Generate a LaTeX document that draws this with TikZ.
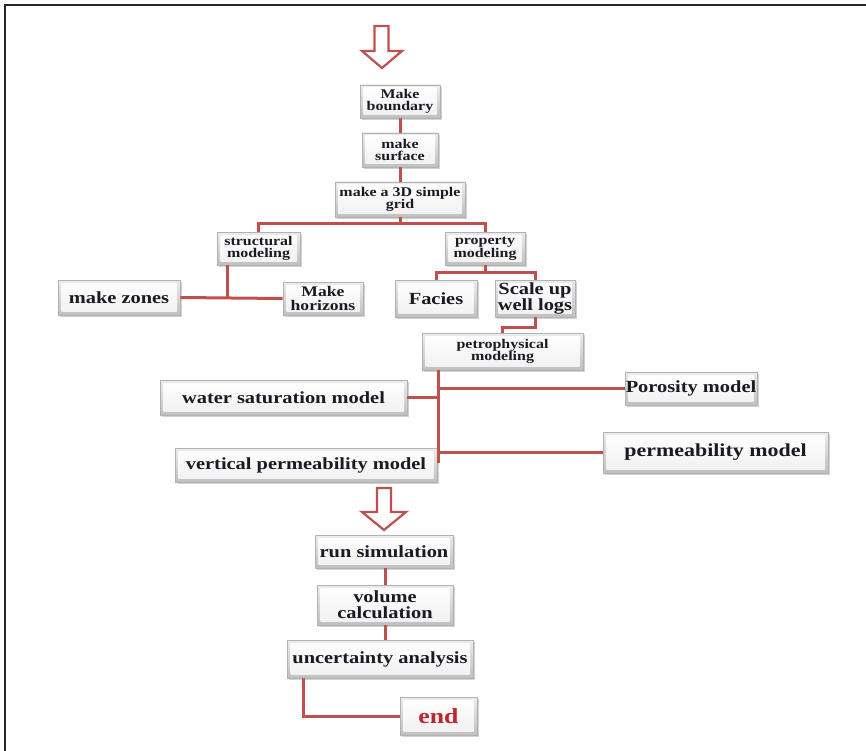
\documentclass[tikz,border=0pt]{standalone}
\usepackage{fontspec}
\setmainfont{Liberation Serif}
\newfontfamily\bxfont[FakeStretch=1.2]{Liberation Serif}
\usetikzlibrary{shadows}
\definecolor{lnred}{HTML}{C0504D}
\definecolor{txtc}{HTML}{1A1A24}
\definecolor{endred}{HTML}{C0262D}
\tikzset{
  bevel/.style={draw=gray!60, line width=0.6pt, top color=gray!15, bottom color=gray!50,
    drop shadow={shadow xshift=2pt, shadow yshift=-2pt, opacity=0.5, fill=gray!70},
    inner sep=0pt, align=center, text=txtc,
    path picture={\shade[top color=white,bottom color=gray!12]
      ([shift={(3.5pt,-3pt)}]path picture bounding box.north west) rectangle
      ([shift={(-3.5pt,3.5pt)}]path picture bounding box.south east);}},
  sm/.style={font=\bxfont\bfseries\fontsize{13.3}{12.5}\selectfont},
  lg/.style={font=\bxfont\bfseries\fontsize{17}{16}\selectfont},
  link/.style={draw=lnred, line width=3pt},
  bigarrow/.style={draw=lnred, line width=2.2pt, fill=white, line join=miter},
}
\begin{document}
\begin{tikzpicture}[x=1pt,y=-1pt]
\useasboundingbox (0,0) rectangle (866,751);
\draw[line width=1.8pt, black!85] (5,751) -- (5,5) -- (866,5);

% hollow arrows
\draw[bigarrow] (374.5,26) -- (388.5,26) -- (388.5,51) -- (402,51) -- (382,68) -- (362,51) -- (374.5,51) -- cycle;
\draw[bigarrow] (377,488) -- (391,488) -- (391,512) -- (406,512) -- (384,530) -- (362,512) -- (377,512) -- cycle;

% nodes
\node[bevel, sm, minimum width=80pt, minimum height=33pt] (mb) at (400,101.5) {Make\\boundary};
\node[bevel, sm, minimum width=76pt, minimum height=34pt] (ms) at (400,150) {make\\surface};
\node[bevel, sm, minimum width=130pt, minimum height=35pt] (grid) at (400,199.5) {make a 3D simple\\grid};
\node[bevel, sm, minimum width=83pt, minimum height=33pt] (struct) at (258.5,248.5) {structural\\modeling};
\node[bevel, sm, minimum width=80pt, minimum height=33pt] (prop) at (485,248.5) {property\\modeling};
\node[bevel, lg, minimum width=122pt, minimum height=35pt] (zones) at (119,297.5) {make zones};
\node[bevel, font=\bxfont\bfseries\fontsize{14.7}{13.5}\selectfont, minimum width=80pt, minimum height=33pt] (hor) at (323,298.5) {Make\\horizons};
\node[bevel, lg, minimum width=82pt, minimum height=37pt] (facies) at (436,298.5) {Facies};
\node[bevel, lg, minimum width=80pt, minimum height=37pt] (scale) at (535,298.5) {Scale up\\well logs};
\node[bevel, sm, minimum width=161pt, minimum height=37pt] (petro) at (502.5,351.5) {petrophysical\\modeling};
\node[bevel, lg, minimum width=247pt, minimum height=35pt] (water) at (283.5,397.5) {water saturation model};
\node[bevel, lg, minimum width=132pt, minimum height=33pt] (poro) at (691,388.5) {Porosity model};
\node[bevel, lg, minimum width=262pt, minimum height=34pt] (vert) at (306,465) {vertical permeability model};
\node[bevel, font=\bxfont\bfseries\fontsize{18.3}{18}\selectfont, minimum width=225pt, minimum height=41pt] (perm) at (715.5,452.5) {permeability model};
\node[bevel, lg, minimum width=138pt, minimum height=33pt] (run) at (384,551.5) {run simulation};
\node[bevel, lg, minimum width=136pt, minimum height=40pt] (vol) at (385,605) {volume\\calculation};
\node[bevel, lg, minimum width=186pt, minimum height=38pt] (unc) at (380,659) {uncertainty analysis};
\node[bevel, font=\bxfont\bfseries\fontsize{21.5}{20}\selectfont, text=endred, minimum width=77pt, minimum height=38pt] (endn) at (438.5,716) {end};

% junction coordinates
\coordinate (sj) at (227,297);
\coordinate (tk) at (438,463);
\coordinate (uj) at (303,712);
\coordinate (vx) at (385,600);

% connectors
\draw[link] (mb.south) -- (ms.north);
\draw[link] (ms.south) -- (grid.north);
\draw[link] (grid.south) -- ++(0,6) -| (struct.north);
\draw[link] (grid.south) -- ++(0,6) -| (prop.north);
\draw[link] (struct.south -| sj) -- (sj);
\draw[link] (zones.east) -- (hor.west);
\draw[link] (prop.south) -- ++(0,7) -| (facies.north);
\draw[link] (prop.south) -- ++(0,7) -| (scale.north);
\draw[link] (scale.south) -- ++(0,10) -| (petro.north);
\draw[link] (petro.south -| tk) -- (tk);
\draw[link] (water.east) -- (water.east -| tk);
\draw[link] (poro.west -| tk) -- (poro.west);
\draw[link] (perm.west -| tk) -- (perm.west);
\draw[link] (run.south -| vx) -- (vol.north -| vx);
\draw[link] (vol.south -| vx) -- (unc.north -| vx);
\draw[link] (unc.south -| uj) |- (endn.west);
\end{tikzpicture}
\end{document}
